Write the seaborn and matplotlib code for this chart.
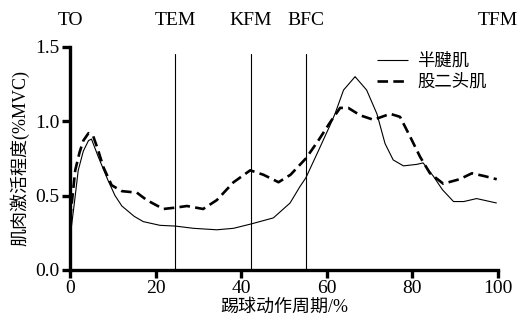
import matplotlib
matplotlib.use("Agg")
import matplotlib.pyplot as plt
import seaborn as sns
import pandas as pd

# 半腱肌 (实线)
st_x = [0, 1, 1.9, 3.1, 4.3, 5.0, 6.6, 8.9, 10.5, 12.1, 15, 17.1, 21, 24.6, 28.8, 34.3,
        38.2, 42.4, 47.5, 51.4, 53.7, 55.1, 58, 60.7, 61.9, 63.9, 66.6, 69.3, 71.7,
        73.6, 75.5, 77.9, 81, 82.5, 84.9, 87, 89.6, 92, 95, 99.7]
st_y = [0.22, 0.45, 0.67, 0.80, 0.87, 0.88, 0.76, 0.60, 0.50, 0.43, 0.36, 0.325, 0.30,
        0.295, 0.28, 0.27, 0.28, 0.31, 0.35, 0.45, 0.56, 0.62, 0.80, 0.97, 1.05, 1.21,
        1.30, 1.21, 1.05, 0.85, 0.74, 0.70, 0.71, 0.72, 0.63, 0.54, 0.46, 0.46, 0.48, 0.45]

# 股二头肌 (虚线)
bf_x = [0, 1.2, 2.2, 3.1, 4.3, 5.4, 6.5, 7.8, 9.7, 12.1, 15.6, 17.9, 21.8, 24.9, 27.3,
        31.1, 34.3, 38.2, 42.1, 45.2, 48.7, 51.5, 55.1, 58, 60.7, 63.1, 65, 67.8, 70.9,
        74.8, 77.1, 79.4, 81.8, 84.1, 87.2, 91, 93.9, 97, 99.7]
bf_y = [0.34, 0.67, 0.79, 0.87, 0.92, 0.90, 0.81, 0.69, 0.57, 0.53, 0.52, 0.47, 0.41,
        0.42, 0.43, 0.41, 0.47, 0.59, 0.67, 0.64, 0.59, 0.64, 0.75, 0.87, 0.99, 1.09,
        1.09, 1.04, 1.01, 1.05, 1.03, 0.90, 0.76, 0.65, 0.58, 0.61, 0.65, 0.63, 0.61]

# 时相标记
event_names = ["TO", "TEM", "KFM", "BFC", "TFM"]
event_pos = [0, 24.6, 42.3, 55.1, 100]
vline_pos = [24.6, 42.3, 55.1]

x_ticks = [0, 20, 40, 60, 80, 100]
y_ticks = [0.0, 0.5, 1.0, 1.5]

df = pd.concat([
    pd.DataFrame({"x": st_x, "y": st_y, "muscle": "半腱肌"}),
    pd.DataFrame({"x": bf_x, "y": bf_y, "muscle": "股二头肌"}),
])

sns.set_style("ticks", {"axes.edgecolor": "black", "text.color": "black",
                        "axes.labelcolor": "black", "xtick.color": "black",
                        "ytick.color": "black"})
plt.rcParams["font.family"] = ["Liberation Serif", "Noto Sans CJK SC"]
plt.rcParams["font.size"] = 14

fig = plt.figure(figsize=(5.27, 3.26), dpi=100)
ax = fig.add_axes([0.133, 0.172, 0.812, 0.684])

sns.lineplot(data=df, x="x", y="y", hue="muscle", style="muscle",
             palette=["black", "black"], dashes=[(1, 0), (4, 2)],
             sort=False, estimator=None, ax=ax, legend=True)
lines = ax.get_lines()
lines[0].set_linewidth(0.8)
lines[1].set_linewidth(1.9)

for xv in vline_pos:
    ax.plot([xv, xv], [0, 1.45], color="black", lw=0.8)

for name, xv in zip(event_names, event_pos):
    ax.text(xv, 1.12, name, transform=ax.get_xaxis_transform(),
            ha="center", va="center", fontsize=14)

ax.set_xlim(0, 100)
ax.set_ylim(0, 1.5)
ax.set_xticks(x_ticks)
ax.set_yticks(y_ticks)
ax.set_yticklabels([f"{v:.1f}" for v in y_ticks])
ax.set_xlabel("踢球动作周期/%", fontsize=13, labelpad=1)
ax.set_ylabel("肌肉激活程度(%MVC)", fontsize=13, labelpad=4)

for s in ["left", "bottom"]:
    ax.spines[s].set_linewidth(2.4)
    ax.spines[s].set_color("black")
sns.despine(ax=ax)
ax.tick_params(width=2.4, length=6, labelsize=14, pad=1.5, color="black",
               labelcolor="black")

handles, labels = ax.get_legend_handles_labels()
leg = ax.legend(handles, labels, loc="upper right", bbox_to_anchor=(1.01, 1.04),
                frameon=False, fontsize=12.5, handlelength=1.8, handletextpad=0.5,
                labelspacing=0.25)
leg.get_lines()[0].set_linewidth(0.8)
leg.get_lines()[1].set_linewidth(1.9)

fig.savefig("out.png", dpi=100)
